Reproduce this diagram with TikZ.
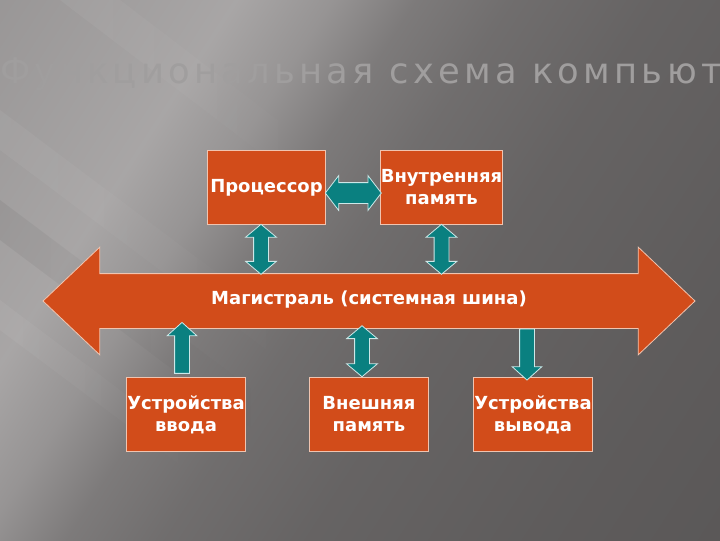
\documentclass[tikz,border=0pt]{standalone}
\usepackage{fontspec}
\setmainfont{DejaVu Sans}
\newfontfamily\titlefont[LetterSpace=12]{DejaVu Sans}
\usetikzlibrary{shapes.arrows, calc, positioning, fadings}
\definecolor{boxfill}{RGB}{210,76,26}
\definecolor{boxline}{RGB}{240,196,176}
\definecolor{linkfill}{RGB}{10,128,128}
\definecolor{linkline}{RGB}{205,232,232}
\definecolor{titlegray}{RGB}{160,158,158}
\pgfdeclarehorizontalshading{slide}{100bp}{
  rgb(0bp)=(.59,.58,.58); rgb(25bp)=(.59,.58,.58);
  rgb(27.5bp)=(.60,.59,.59); rgb(32.5bp)=(.63,.62,.62);
  rgb(37.5bp)=(.66,.65,.65); rgb(41.5bp)=(.59,.58,.58);
  rgb(45bp)=(.49,.48,.48); rgb(49bp)=(.44,.43,.43);
  rgb(55bp)=(.40,.39,.39); rgb(65bp)=(.37,.36,.36);
  rgb(75bp)=(.35,.34,.34); rgb(100bp)=(.35,.34,.34)}

\begin{document}
\begin{tikzpicture}[x=0.75pt,y=-0.75pt,
    box/.style={rectangle,fill=boxfill,draw=boxline,line width=0.6pt,
          minimum width=89pt,minimum height=55pt,inner sep=0pt,
          text=white,align=center,
          font=\bfseries\fontsize{13.5}{16.5}\selectfont},
    vlink/.style={double arrow,rotate=90,fill=linkfill,draw=linkline,
          line width=0.6pt,minimum height=37.5pt,inner xsep=0pt,
          inner ysep=5.25pt,text height=0pt,text depth=0pt,
          double arrow head extend=6pt,double arrow tip angle=100},
    slink/.style={single arrow,fill=linkfill,draw=linkline,
          line width=0.6pt,minimum height=38.25pt,inner xsep=0pt,
          inner ysep=5.25pt,text height=0pt,text depth=0pt,
          single arrow head extend=5.6pt,single arrow tip angle=96},
    streak/.style={opacity=.05,path fading=east}]
    % background
    \useasboundingbox (0,0) rectangle (720,540);
    \begin{scope}
      \clip (0,0) rectangle (720,540);
      \fill[shading=slide,transform canvas={rotate around={-33:(360,270)}}]
           (-140,-230) rectangle (860,770);
      \fill[white,streak] (0,110)--(0,150)--(300,375)--(300,335)--cycle;
      \fill[white,streak] (0,300)--(0,330)--(200,480)--(200,450)--cycle;
      \fill[white,streak] (60,0)--(120,0)--(330,160)--(270,160)--cycle;
      \fill[black,streak] (0,200)--(0,240)--(260,435)--(260,395)--cycle;
    \end{scope}
    % title
    \node[anchor=base west,inner sep=0pt,text=titlegray,
          font=\titlefont\fontsize{26.5}{30}\selectfont](title)at(0,83)
         {Функциональная схема компьют};
    % boxes
    \node[box](cpu)at(266.5,187.5){Процессор};
    \node[box](ram)at(441.5,187.5){Внутренняя\\память};
    \node[box](input)at(186,414.5){Устройства\\ввода};
    \node[box](extmem)at(369,414.5){Внешняя\\память};
    \node[box](output)at(533,414.5){Устройства\\вывода};
    % bus
    \node[double arrow,fill=boxfill,draw=boxline,line width=0.6pt,
          minimum height=489pt,inner xsep=0pt,inner ysep=15pt,
          text height=8pt,text depth=2.5pt,
          double arrow head extend=19.9pt,double arrow tip angle=87,
          text=white,font=\bfseries\fontsize{13.5}{16.5}\selectfont]
         (bus)at(369,301){Магистраль (системная шина)};
    \coordinate(bustop)at(369,274);
    \coordinate(busbot)at(369,328);
    % links
    \node[double arrow,fill=linkfill,draw=linkline,line width=0.6pt,
          minimum height=42pt,inner xsep=0pt,inner ysep=7.5pt,
          text height=0pt,text depth=0pt,
          double arrow head extend=5.25pt,double arrow tip angle=105]
         (l1)at($(cpu.east)!0.5!(ram.west)+(0,5.5)$){};
    \node[vlink](l2)at($(cpu.south)!0.5!(cpu.south|-bustop)+(-5.5,0)$){};
    \node[vlink](l3)at($(ram.south)!0.5!(ram.south|-bustop)$){};
    \node[slink,rotate=90](l4)at($(input.north)!0.5!(input.north|-busbot)+(-4,-1.5)$){};
    \node[vlink,minimum height=38.25pt](l5)at($(extmem.north)!0.5!(extmem.north|-busbot)+(-7,-1.5)$){};
    \node[slink,rotate=-90](l6)at($(output.north)!0.5!(output.north|-busbot)+(-6,-1.5)$){};
\end{tikzpicture}
\end{document}
